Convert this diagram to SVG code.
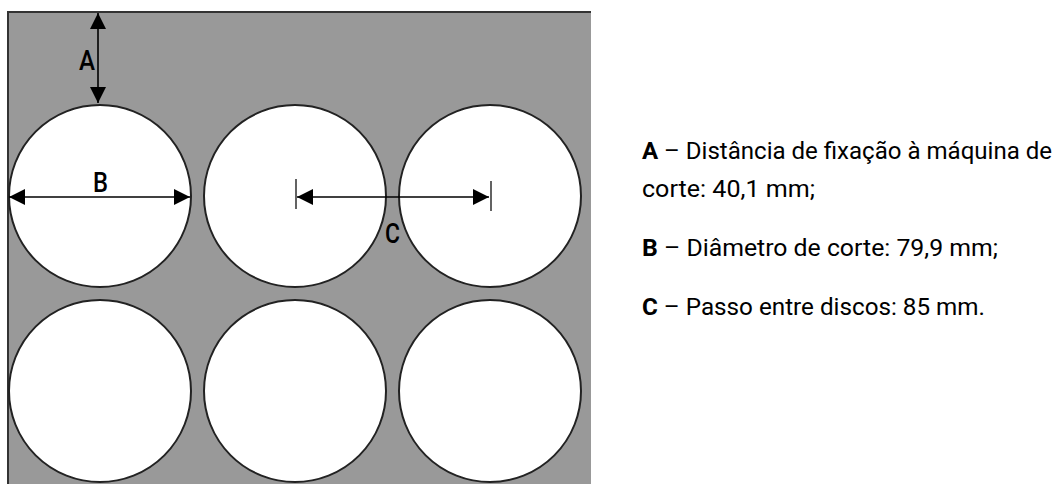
<svg xmlns="http://www.w3.org/2000/svg" width="1057" height="484" viewBox="0 0 1057 484">
<style>
.disc{fill:#fff;stroke:#222;stroke-width:2}
.dim{stroke:#000;stroke-width:1.6;fill:none;marker-start:url(#head);marker-end:url(#head)}
.tick{stroke:#222;stroke-width:1.4;fill:none}
text{font-family:"Roboto","Liberation Sans",sans-serif;fill:#000}
.lab{font-size:28px;font-weight:500}
.leg{font-size:24.2px}
.b{font-weight:700}
</style>
<defs><marker id="head" viewBox="0 0 16 16" refX="16" refY="8" markerUnits="userSpaceOnUse" markerWidth="16" markerHeight="16" orient="auto-start-reverse"><path d="M0 0L16 8L0 16Z" fill="#000"/></marker></defs>
<rect id="plate" x="8" y="12" width="583" height="472" fill="#999"/>
<path d="M8 484V12H591" fill="none" stroke="#333" stroke-width="2"/>
<g id="disc-1"><circle class="disc" cx="100" cy="196" r="91"/></g>
<g id="disc-2"><circle class="disc" cx="295" cy="196" r="91"/></g>
<g id="disc-3"><circle class="disc" cx="490" cy="196" r="91"/></g>
<g id="disc-4"><circle class="disc" cx="100" cy="391" r="91"/></g>
<g id="disc-5"><circle class="disc" cx="295" cy="391" r="91"/></g>
<g id="disc-6"><circle class="disc" cx="490" cy="391" r="91"/></g>
<g id="connectors">
<path class="dim" d="M98 13V103"/>
<path class="dim" d="M9 197H190"/>
<path class="dim" d="M297 197H489"/>
<path class="tick" d="M296 179V209M491 181V211"/>
</g>
<g id="labels">
<text class="lab" x="79" y="70" textLength="16" lengthAdjust="spacingAndGlyphs">A</text>
<text class="lab" x="93" y="192" textLength="15" lengthAdjust="spacingAndGlyphs">B</text>
<text class="lab" x="385" y="243" textLength="15" lengthAdjust="spacingAndGlyphs">C</text>
</g>
<g id="legend" class="leg">
<text x="642" y="159" textLength="410" lengthAdjust="spacingAndGlyphs"><tspan class="b">A</tspan> – Distância de fixação à máquina de</text>
<text x="642" y="197" textLength="173" lengthAdjust="spacingAndGlyphs">corte: 40,1 mm;</text>
<text x="642" y="256" textLength="356" lengthAdjust="spacingAndGlyphs"><tspan class="b">B</tspan> – Diâmetro de corte: 79,9 mm;</text>
<text x="642" y="315" textLength="343" lengthAdjust="spacingAndGlyphs"><tspan class="b">C</tspan> – Passo entre discos: 85 mm.</text>
</g>
</svg>
